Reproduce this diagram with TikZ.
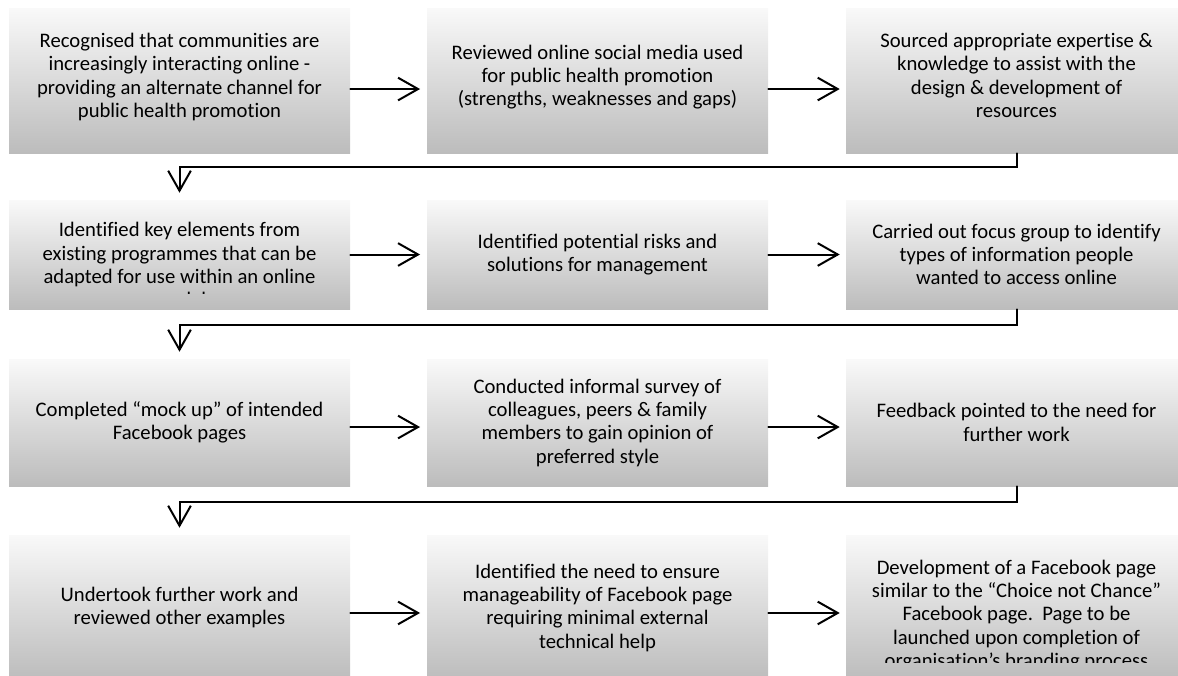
\documentclass[tikz,border=0pt]{standalone}
\usepackage{fontspec}
\setmainfont{Carlito}[RawFeature={-liga}]
\usetikzlibrary{arrows.meta}
\definecolor{boxtop}{RGB}{249,249,249}
\definecolor{boxbot}{RGB}{188,188,188}
\tikzset{
  txtfont/.style={font=\fontsize{15.5}{17.5}\selectfont},
  stepbox/.style={rectangle, draw=none, top color=boxtop, bottom color=boxbot,
    minimum width=255.75pt, inner sep=0pt, align=center, txtfont},
  conn/.style={line width=1.5pt, line cap=round,
    -{Straight Barb[length=15pt,width=17pt,line width=1.5pt]}},
}
\begin{document}
\begin{tikzpicture}[x=0.75pt,y=-0.75pt]
\useasboundingbox (0,0) rectangle (1178,675);
\clip (0,0) rectangle (1178,675);
% row 1
\node[stepbox, minimum height=108.75pt, text depth=8pt] (b1) at (179.5,80.5)
  {Recognised that communities are\\increasingly interacting online -\\providing an alternate channel for\\public health promotion};
\node[stepbox, minimum height=108.75pt, text depth=8pt] (b2) at (597.5,80.5)
  {Reviewed online social media used\\for public health promotion\\(strengths, weaknesses and gaps)};
\node[stepbox, minimum height=108.75pt, text depth=8pt] (b3) at (1016.5,80.5)
  {Sourced appropriate expertise \&\\knowledge to assist with the\\design \& development of\\resources};
% row 2
\node[stepbox, minimum height=81.75pt,
  path picture={
    \clip ([yshift=11.5pt]path picture bounding box.south west) rectangle (path picture bounding box.north east);
    \node[txtfont, align=center, anchor=north, inner sep=0pt] (t4) at ([yshift=-7.5pt]path picture bounding box.north)
      {Identified key elements from\\existing programmes that can be\\adapted for use within an online\\model};
  }] (b4) at (179.5,254.5) {};
\node[stepbox, minimum height=81.75pt] (b5) at (597.5,254.5)
  {Identified potential risks and\\solutions for management};
\node[stepbox, minimum height=81.75pt] (b6) at (1016.5,254.5)
  {Carried out focus group to identify\\types of information people\\wanted to access online};
% row 3
\node[stepbox, minimum height=95.25pt] (b7) at (179.5,422.5)
  {Completed “mock up” of intended\\Facebook pages};
\node[stepbox, minimum height=95.25pt] (b8) at (597.5,422.5)
  {Conducted informal survey of\\colleagues, peers \& family\\members to gain opinion of\\preferred style};
\node[stepbox, minimum height=95.25pt] (b9) at (1016.5,422.5)
  {Feedback pointed to the need for\\further work};
% row 4
\node[stepbox, minimum height=108.75pt] (b10) at (179.5,607.5)
  {Undertook further work and\\reviewed other examples};
\node[stepbox, minimum height=108.75pt] (b11) at (597.5,607.5)
  {Identified the need to ensure\\manageability of Facebook page\\requiring minimal external\\technical help};
\node[stepbox, minimum height=108.75pt,
  path picture={
    \clip ([yshift=13.5pt]path picture bounding box.south west) rectangle (path picture bounding box.north east);
    \node[txtfont, align=center, inner sep=0pt] (t12) at ([yshift=-6pt]path picture bounding box.center)
      {Development of a Facebook page\\similar to the “Choice not Chance”\\Facebook page.\ \ Page to be\\launched upon completion of\\organisation’s branding process};
  }] (b12) at (1016.5,607.5) {};
% horizontal connectors
\draw[conn, shorten >=5pt] ([yshift=-6.4pt]b1.east) -- ([yshift=-6.4pt]b2.west);
\draw[conn, shorten >=4.5pt] ([yshift=-6.4pt]b2.east) -- ([yshift=-6.4pt]b3.west);
\draw[conn, shorten >=5pt] (b4.east) -- (b5.west);
\draw[conn, shorten >=4.5pt] (b5.east) -- (b6.west);
\draw[conn, shorten >=5pt] ([yshift=-3.4pt]b7.east) -- ([yshift=-3.4pt]b8.west);
\draw[conn, shorten >=4.5pt] ([yshift=-3.4pt]b8.east) -- ([yshift=-3.4pt]b9.west);
\draw[conn, shorten >=5pt] ([yshift=-4.1pt]b10.east) -- ([yshift=-4.1pt]b11.west);
\draw[conn, shorten >=4.5pt] ([yshift=-4.1pt]b11.east) -- ([yshift=-4.1pt]b12.west);
% row-to-row connectors
\draw[conn, shorten >=5.25pt] (b3.south) -- ++(0,14) -| (b4.north);
\draw[conn, shorten >=5.25pt] (b6.south) -- ++(0,16) -| (b7.north);
\draw[conn, shorten >=5.25pt] (b9.south) -- ++(0,16) -| (b10.north);
\end{tikzpicture}
\end{document}
